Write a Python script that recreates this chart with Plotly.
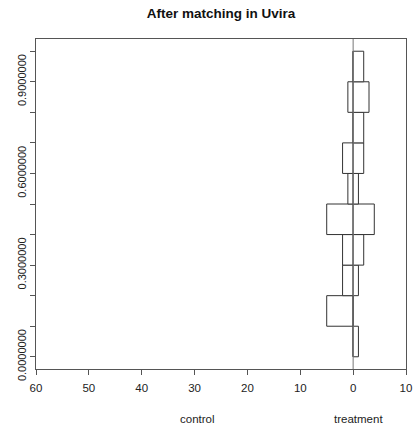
import plotly.graph_objects as go

# histogram bins of the propensity score (lower edges), width 0.1
bin_lower = [0.0, 0.1, 0.2, 0.3, 0.4, 0.5, 0.6, 0.7, 0.8, 0.9]
bin_width = 0.1
control_counts = [0, 5, 2, 2, 5, 1, 2, 0, 1, 0]
treatment_counts = [1, 0, 1, 2, 4, 1, 2, 2, 3, 2]

x_tick_vals = [-60, -50, -40, -30, -20, -10, 0, 10]
x_tick_text = ["60", "50", "40", "30", "20", "10", "0", "10"]
y_tick_vals = [0.0, 0.1, 0.2, 0.3, 0.4, 0.5, 0.6, 0.7, 0.8, 0.9, 1.0]
y_tick_text = ["0.0000000", "", "", "0.3000000", "", "", "0.6000000", "", "", "0.9000000", ""]

title_text = "After matching in Uvira"
group_labels = ["control", "treatment"]

centers = [b + bin_width / 2 for b in bin_lower]
font = "Liberation Sans, Arial, sans-serif"

fig = go.Figure()
fig.add_trace(go.Bar(
    y=centers, x=[-c for c in control_counts], base=0, orientation="h",
    width=bin_width, marker=dict(color="white", line=dict(color="#333333", width=1)),
    showlegend=False, hoverinfo="skip"))
fig.add_trace(go.Bar(
    y=centers, x=treatment_counts, base=0, orientation="h",
    width=bin_width, marker=dict(color="white", line=dict(color="#333333", width=1)),
    showlegend=False, hoverinfo="skip"))

fig.add_shape(type="line", xref="x", yref="paper", x0=0, x1=0, y0=0, y1=1,
              line=dict(color="#777777", width=1))

fig.add_annotation(text=group_labels[0], xref="x", yref="paper", x=-29.5, y=-0.1515,
                   xanchor="center", yanchor="middle",
                   showarrow=False, font=dict(family=font, size=11.5, color="#222222"))
fig.add_annotation(text=group_labels[1], xref="x", yref="paper", x=1.1, y=-0.1515,
                   xanchor="center", yanchor="middle",
                   showarrow=False, font=dict(family=font, size=11.5, color="#222222"))

fig.update_layout(
    width=413, height=431,
    margin=dict(l=36, r=7, t=39, b=62),
    paper_bgcolor="white", plot_bgcolor="white",
    barmode="overlay",
    title=dict(text="<b>" + title_text + "</b>", x=0.535, xanchor="center",
               y=1 - 13 / 431, yanchor="middle", automargin=False,
               font=dict(family=font, size=13.5, color="#111111")),
    font=dict(family=font, size=11, color="#222222"),
    xaxis=dict(range=[-60, 10], tickvals=x_tick_vals, ticktext=x_tick_text,
               showgrid=False, zeroline=False, showline=True, mirror=True,
               linecolor="#555555", linewidth=1, ticks="outside", ticklen=5,
               tickcolor="#555555", tickfont=dict(size=11.5), automargin=False,
               ticklabelstandoff=3),
    yaxis=dict(range=[-0.04, 1.04], tickvals=y_tick_vals, ticktext=y_tick_text,
               showgrid=False, zeroline=False, showline=True, mirror=True,
               linecolor="#555555", linewidth=1, ticks="outside", ticklen=5,
               tickcolor="#555555", tickangle=-90, tickfont=dict(size=11),
               automargin=False),
)

fig.write_html("out.html")
